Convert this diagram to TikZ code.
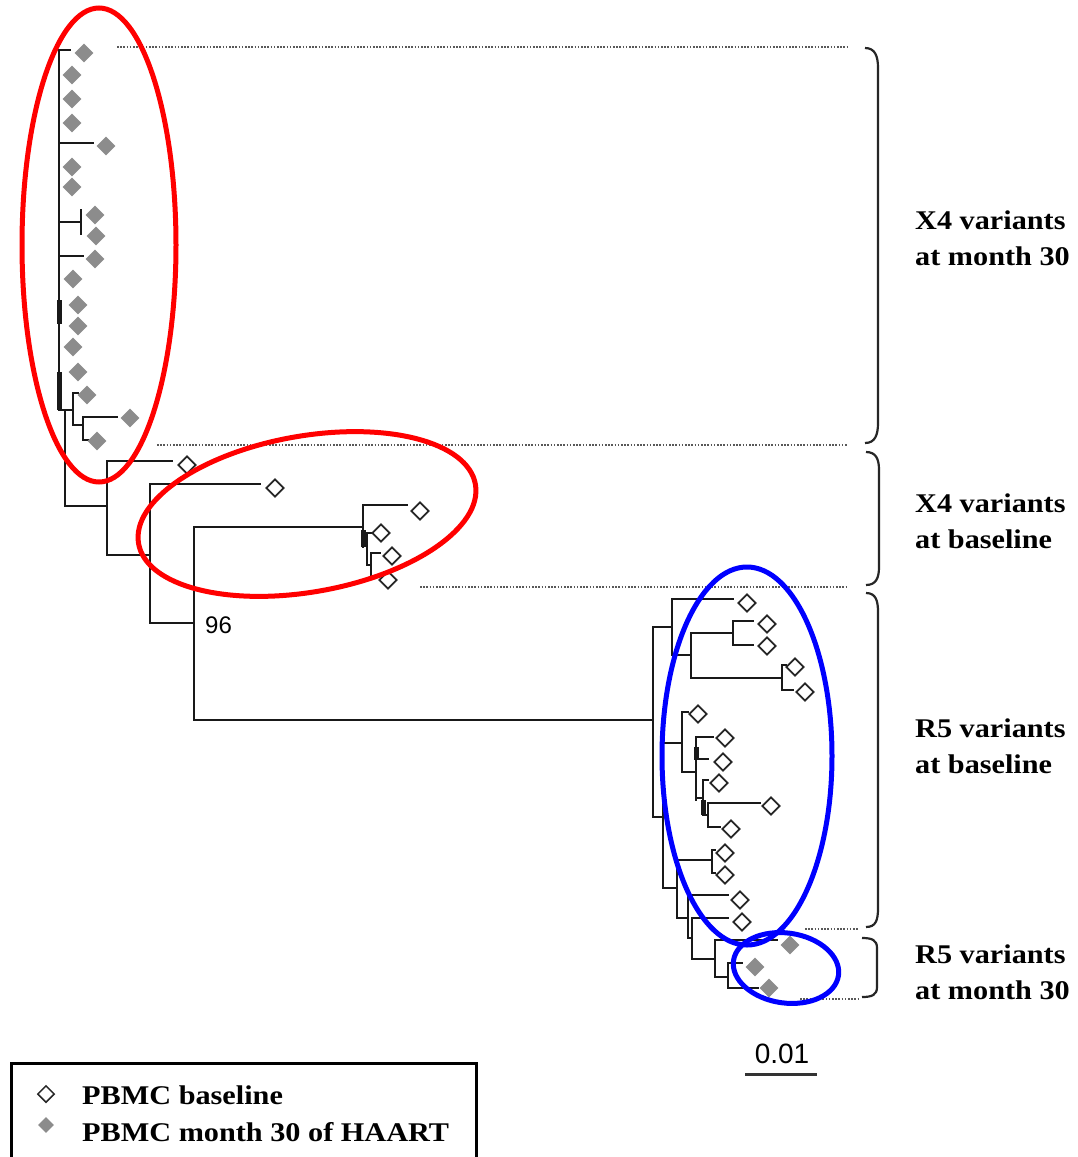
\documentclass[tikz,border=0pt]{standalone}
\usepackage{fontspec}
\setmainfont{Liberation Serif}
\newfontfamily\labfont[FakeStretch=1.12]{Liberation Serif}
\newfontfamily\numfont{Liberation Sans}
\usetikzlibrary{shapes.geometric}
\newcommand\treeH[3]{\draw[tree] (#2,#1) -- (#3,#1);}
\newcommand\treeV[3]{\draw[tree] (#1,#2) -- (#1,#3);}
\begin{document}
\begin{tikzpicture}[x=1pt,y=-1pt,
 tree/.style={line width=2.9pt, draw=black!90, line cap=rect},
 thick tree/.style={line width=4.5pt, draw=black!90},
 od/.style={diamond, draw=black!85, fill=white, line width=1.7pt, minimum width=18pt, minimum height=18pt, inner sep=0pt},
 gd/.style={diamond, fill=black!45, minimum width=19pt, minimum height=19pt, inner sep=0pt},
 dots/.style={draw=black!65, line width=1.7pt, dash pattern=on 1.6pt off 1.6pt},
 brace/.style={draw=black!85, line width=2.2pt},
 lab/.style={font=\labfont\bfseries\fontsize{27}{32}\selectfont, anchor=base west, inner sep=0pt},
 num/.style={font=\numfont\fontsize{24}{28}\selectfont, anchor=base west, inner sep=0pt},
 redring/.style={draw=red, line width=5pt},
 bluering/.style={draw=blue, line width=5pt}]
\useasboundingbox (0,0) rectangle (1077,1157);
\fill[white] (0,0) rectangle (1077,1157);

% dotted separators
\draw[dots] (117,47) -- (848,47);
\draw[dots] (157,445) -- (848,445);
\draw[dots] (420,587) -- (848,587);
\draw[dots] (805,929) -- (858,929);
\draw[dots] (800,999) -- (858,999);

% ---- X4 month 30 clade
\treeV{59}{50}{410}
\draw[thick tree] (59.5,300) -- (59.5,324);
\draw[thick tree] (59.5,372) -- (59.5,410);
\treeH{50}{59}{70}
\treeH{143}{59}{93}
\treeH{222}{59}{81}
\treeV{81}{210}{234}
\treeH{256}{59}{83}
\treeH{410}{59}{73}
\treeV{73}{393}{425}
\treeH{393}{73}{78}
\treeH{425}{73}{83}
\treeV{83}{417}{440}
\treeH{417}{83}{117}
\treeH{440}{83}{88}
\treeV{65}{410}{506}
% ---- X4 baseline
\treeH{506}{65}{107}
\treeV{107}{461}{555}
\treeH{461}{107}{172}
\treeH{555}{107}{150}
\treeV{150}{484}{623}
\treeH{484}{150}{260}
\treeH{623}{150}{194}
\treeV{194}{527}{720}
\treeH{527}{194}{363}
\treeV{363}{505}{547}
\draw[thick tree] (363.5,530) -- (363.5,547);
\treeH{505}{363}{407}
\treeH{540}{363}{367}
\treeV{367}{533}{565}
\treeH{533}{367}{372}
\treeH{565}{367}{371}
\treeV{371}{553}{577}
\treeH{553}{371}{380}
\treeH{577}{371}{378}
% ---- R5 clade
\treeH{720}{194}{653}
\treeV{653}{627}{817}
\treeH{627}{653}{672}
\treeV{672}{599}{655}
\treeH{599}{672}{733}
\treeH{655}{672}{691}
\treeV{691}{633}{678}
\treeH{633}{691}{733}
\treeV{733}{621}{645}
\treeH{621}{733}{753}
\treeH{645}{733}{753}
\treeH{678}{691}{782}
\treeV{782}{665}{690}
\treeH{665}{782}{786}
\treeH{690}{782}{793}
\treeH{817}{653}{663}
\treeV{663}{743}{888}
\treeH{743}{663}{682}
\treeV{682}{712}{772}
\treeH{712}{682}{688}
\treeH{772}{682}{696}
\treeV{696}{737}{800}
\draw[thick tree] (696.5,747) -- (696.5,760);
\treeH{737}{696}{713}
\treeH{759}{696}{708}
\treeH{798}{696}{703}
\treeV{703}{780}{815}
\draw[thick tree] (703.5,800) -- (703.5,815);
\treeH{780}{703}{708}
\treeH{815}{703}{708}
\treeV{708}{803}{827}
\treeH{803}{708}{760}
\treeH{827}{708}{720}
\treeH{888}{663}{677}
\treeV{677}{860}{918}
\treeH{860}{677}{712}
\treeV{712}{850}{873}
\treeH{850}{712}{715}
\treeH{873}{712}{715}
\treeH{918}{677}{688}
\treeV{688}{895}{938}
\treeH{895}{688}{728}
\treeH{938}{688}{692}
\treeV{692}{918}{959}
\treeH{918}{692}{728}
\treeH{959}{692}{715}
\treeV{715}{940}{977}
\treeH{940}{715}{777}
\treeH{977}{715}{728}
\treeV{728}{963}{988}
\treeH{963}{728}{742}
\treeH{988}{728}{758}

% ---- leaves
\foreach \x/\y [count=\i] in {84/53,72/75,72/99,72/123,106/146,72/167,72/187,95/215,96/236,95/259,73/279,78/305,78/326,73/347,78/372,87/395,130/418,97/441,790/945,755/967,769/988}
  \node[gd] (g\i) at (\x,\y) {};
\foreach \x/\y [count=\i] in {187/465,275/488,420/511,381/533,392/556,388/580,747/603,767/624,767/646,795/667,805/692,698/714,725/738,723/762,719/783,771/806,731/829,725/853,725/875,740/900,742/922}
  \node[od] (o\i) at (\x,\y) {};

% bootstrap value
\node[num] (boot) at (205,633) {96};

% braces
\draw[brace] (865,48) .. controls (875,48) and (878,56) .. (878,68) -- (878,423) .. controls (878,435) and (875,443) .. (865,443);
\draw[brace] (866,452) .. controls (876,452) and (879,459) .. (879,470) -- (879,567) .. controls (879,578) and (876,585) .. (866,585);
\draw[brace] (866,593) .. controls (876,593) and (878,601) .. (878,612) -- (878,908) .. controls (878,920) and (876,927) .. (866,927);
\draw[brace] (862,938) .. controls (872,938) and (877,940) .. (877,948) -- (877,987) .. controls (877,995) and (872,997) .. (862,997);

% labels
\node[lab] (l1a) at (915,229) {X4 variants};
\node[lab] (l1b) at (915,265) {at month 30};
\node[lab] (l2a) at (915,512) {X4 variants};
\node[lab] (l2b) at (915,548) {at baseline};
\node[lab] (l3a) at (915,737) {R5 variants};
\node[lab] (l3b) at (915,773) {at baseline};
\node[lab] (l4a) at (915,963) {R5 variants};
\node[lab] (l4b) at (915,999) {at month 30};

% scale bar
\node[num, font=\numfont\fontsize{28}{32}\selectfont, anchor=base] (scale) at (782,1063) {0.01};
\draw[line width=3pt, draw=black!80] (745,1074) -- (817,1074);

% legend
\draw[line width=3pt] (11,1165) -- (11,1063) -- (476,1063) -- (476,1165);
\node[od, minimum width=17pt, minimum height=17pt, line width=1.5pt] (lo) at (46,1094) {};
\node[gd, minimum width=16pt, minimum height=16pt] (lg) at (46,1125) {};
\node[lab] (t1) at (82,1104) {PBMC baseline};
\node[lab] (t2) at (82,1141) {PBMC month 30 of HAART};

% highlight rings
\draw[redring] (99,245) ellipse [x radius=77, y radius=237];
\draw[redring, rotate around={10:(307,514)}] (307,514) ellipse [x radius=171, y radius=78];
\draw[bluering] (747,756) ellipse [x radius=85, y radius=189];
\draw[bluering, rotate around={-8:(786,968)}] (786,968) ellipse [x radius=53, y radius=35];
\end{tikzpicture}
\end{document}
